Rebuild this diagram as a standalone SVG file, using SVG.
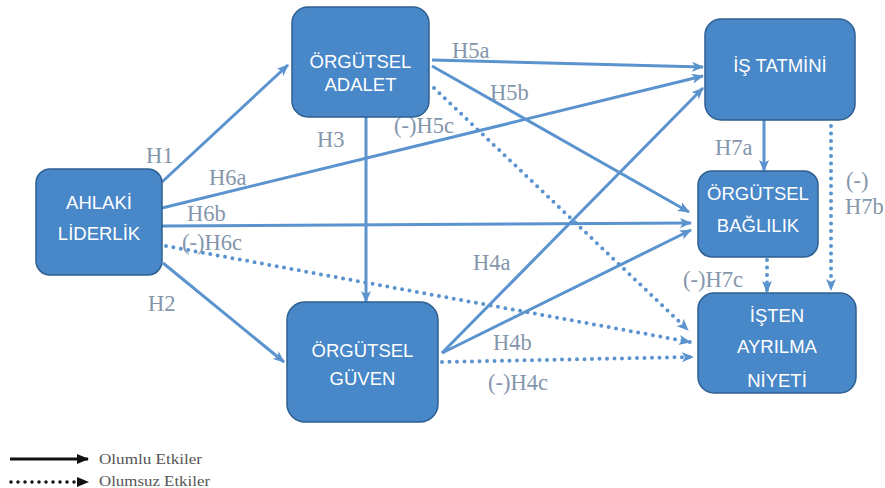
<svg xmlns="http://www.w3.org/2000/svg" width="885" height="488" viewBox="0 0 885 488">
  <defs>
    <style>
      .box { fill: #4887c8; stroke: #2f5f8f; stroke-width: 1.5; }
      .nt { font-family: "Liberation Sans", Arial, sans-serif; font-size: 18.5px; fill: #ffffff; text-anchor: middle; }
      .lbl { font-family: "Liberation Serif", "Times New Roman", serif; font-size: 22.5px; fill: #8496ab; }
      .pos { fill: none; stroke: #5b93cf; stroke-width: 3; marker-end: url(#ah); }
      .neg { fill: none; stroke: #5b93cf; stroke-width: 4; stroke-dasharray: 0 7.5; stroke-linecap: round; marker-end: url(#ah); }
      .leg { font-family: "Liberation Serif", "Times New Roman", serif; font-size: 14px; fill: #555555; }
    </style>
    <marker id="ah" viewBox="0 0 12 10" refX="11" refY="5" markerWidth="12" markerHeight="10" markerUnits="userSpaceOnUse" orient="auto">
      <path d="M0,0 L12,5 L0,10 L3,5 Z" fill="#5b93cf"/>
    </marker>
    <marker id="ahk" viewBox="0 0 12 10" refX="11" refY="5" markerWidth="12" markerHeight="10" markerUnits="userSpaceOnUse" orient="auto">
      <path d="M0,0 L12,5 L0,10 Z" fill="#111111"/>
    </marker>
  </defs>

  <rect width="885" height="488" fill="#ffffff"/>

  <!-- connectors -->
  <g id="connectors">
    <line class="pos" x1="162" y1="182" x2="288" y2="65"/>
    <line class="pos" x1="163" y1="263" x2="284" y2="362"/>
    <line class="pos" x1="366" y1="117" x2="366" y2="302"/>
    <line class="pos" x1="162" y1="208" x2="703" y2="76"/>
    <line class="pos" x1="162" y1="226" x2="691" y2="223"/>
    <line class="neg" x1="166" y1="246" x2="690" y2="342"/>
    <line class="pos" x1="432" y1="60" x2="703" y2="67"/>
    <line class="pos" x1="432" y1="66" x2="689" y2="212"/>
    <line class="neg" x1="434" y1="88" x2="688" y2="330"/>
    <line class="pos" x1="442" y1="353" x2="703" y2="88"/>
    <line class="pos" x1="442" y1="353" x2="691" y2="230"/>
    <line class="neg" x1="442" y1="362" x2="693" y2="357"/>
    <line class="pos" x1="764" y1="120" x2="764" y2="171"/>
    <line class="neg" x1="831" y1="126" x2="831" y2="290"/>
    <line class="neg" x1="767" y1="260" x2="767" y2="292"/>
  </g>

  <!-- hypothesis labels -->
  <g id="labels">
    <text class="lbl" x="146" y="163">H1</text>
    <text class="lbl" x="148" y="311">H2</text>
    <text class="lbl" x="317" y="147">H3</text>
    <text class="lbl" x="209" y="185">H6a</text>
    <text class="lbl" x="187" y="221">H6b</text>
    <text class="lbl" x="182" y="250">(-)H6c</text>
    <text class="lbl" x="452" y="58">H5a</text>
    <text class="lbl" x="490" y="100">H5b</text>
    <text class="lbl" x="394" y="133">(-)H5c</text>
    <text class="lbl" x="473" y="270">H4a</text>
    <text class="lbl" x="493" y="350">H4b</text>
    <text class="lbl" x="488" y="390">(-)H4c</text>
    <text class="lbl" x="715" y="155">H7a</text>
    <text class="lbl" x="846" y="188">(-)</text>
    <text class="lbl" x="845" y="214">H7b</text>
    <text class="lbl" x="683" y="287">(-)H7c</text>
  </g>

  <!-- nodes -->
  <g id="ahlaki-liderlik">
    <rect class="box" x="36" y="169" width="126" height="106" rx="14"/>
    <text class="nt" x="99" y="209">AHLAKİ</text>
    <text class="nt" x="99" y="240">LİDERLİK</text>
  </g>
  <g id="orgutsel-adalet">
    <rect class="box" x="292" y="7" width="137" height="110" rx="16"/>
    <text class="nt" x="360.5" y="68">ÖRGÜTSEL</text>
    <text class="nt" x="360.5" y="91">ADALET</text>
  </g>
  <g id="orgutsel-guven">
    <rect class="box" x="287" y="302" width="151" height="120" rx="18"/>
    <text class="nt" x="362.5" y="357">ÖRGÜTSEL</text>
    <text class="nt" x="362.5" y="385">GÜVEN</text>
  </g>
  <g id="is-tatmini">
    <rect class="box" x="705" y="19" width="150" height="101" rx="16"/>
    <text class="nt" x="780" y="72">İŞ TATMİNİ</text>
  </g>
  <g id="orgutsel-baglilik">
    <rect class="box" x="698" y="171" width="120" height="86" rx="14"/>
    <text class="nt" x="758" y="200">ÖRGÜTSEL</text>
    <text class="nt" x="758" y="232">BAĞLILIK</text>
  </g>
  <g id="isten-ayrilma-niyeti">
    <rect class="box" x="698" y="293" width="158" height="100" rx="16"/>
    <text class="nt" x="777" y="322">İŞTEN</text>
    <text class="nt" x="777" y="353">AYRILMA</text>
    <text class="nt" x="777" y="387">NİYETİ</text>
  </g>

  <!-- legend -->
  <g id="legend">
    <line x1="10" y1="459" x2="88" y2="459" stroke="#111111" stroke-width="3" marker-end="url(#ahk)"/>
    <text class="leg" x="99" y="464" textLength="103" lengthAdjust="spacingAndGlyphs">Olumlu Etkiler</text>
    <line x1="11" y1="482" x2="88" y2="482" stroke="#111111" stroke-width="3.5" stroke-dasharray="0 7" stroke-linecap="round" marker-end="url(#ahk)"/>
    <text class="leg" x="99" y="486" textLength="111" lengthAdjust="spacingAndGlyphs">Olumsuz Etkiler</text>
  </g>
</svg>
